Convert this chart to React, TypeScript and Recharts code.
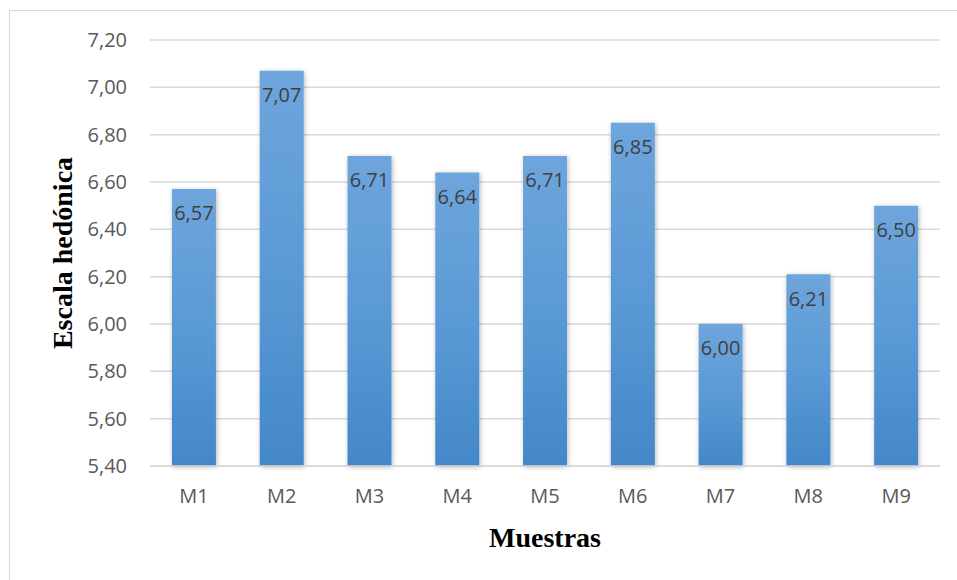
import { Bar, BarChart, CartesianGrid, LabelList, XAxis, YAxis } from "recharts";

const muestras = ["M1", "M2", "M3", "M4", "M5", "M6", "M7", "M8", "M9"];
const escala = [6.57, 7.07, 6.71, 6.64, 6.71, 6.85, 6.0, 6.21, 6.5];
const yTicks = [5.4, 5.6, 5.8, 6.0, 6.2, 6.4, 6.6, 6.8, 7.0, 7.2];

const data = muestras.map((m, i) => ({ name: m, value: escala[i] }));

const fmt = (v: number) => Number(v).toFixed(2).replace(".", ",");

const tickStyle = {
  fill: "#595959",
  fontSize: 20,
  fontFamily: "'Open Sans', sans-serif",
};

const titleStyle = {
  fill: "#000",
  fontSize: 28,
  fontWeight: "bold" as const,
  fontFamily: "'Liberation Serif', 'Times New Roman', serif",
};

export default function App() {
  return (
    <div
      style={{
        position: "absolute",
        left: 0,
        top: 0,
        width: 957,
        height: 580,
        overflow: "hidden",
        background: "#fff",
      }}
    >
      <div
        style={{
          position: "absolute",
          left: 9,
          top: 10,
          width: 1000,
          height: 700,
          border: "1.5px solid #d9d9d9",
        }}
      />
      <BarChart
        width={957}
        height={580}
        data={data}
        margin={{ top: 40, right: 17, bottom: 0, left: 0 }}
        barCategoryGap="25%"
        style={{ position: "absolute", left: 0, top: 0 }}
      >
        <defs>
          <linearGradient id="barFill" x1="0" y1="0" x2="0" y2="1">
            <stop offset="0%" stopColor="#6ea5dc" />
            <stop offset="50%" stopColor="#5a9ad6" />
            <stop offset="100%" stopColor="#4487c8" />
          </linearGradient>
          <filter id="barShadow" x="-30%" y="-10%" width="160%" height="120%">
            <feDropShadow dx="1" dy="1" stdDeviation="2.5" floodColor="#000" floodOpacity="0.28" />
          </filter>
        </defs>
        <CartesianGrid vertical={false} stroke="#d9d9d9" strokeWidth={1.5} />
        <XAxis
          dataKey="name"
          height={114}
          tickLine={false}
          tickSize={0}
          tickMargin={23}
          axisLine={{ stroke: "#d9d9d9", strokeWidth: 1.5 }}
          tick={tickStyle}
          label={{
            value: "Muestras",
            position: "insideBottom",
            offset: 33,
            style: titleStyle,
          }}
        />
        <YAxis
          width={150}
          domain={[5.4, 7.2]}
          ticks={yTicks}
          interval={0}
          axisLine={false}
          tickLine={false}
          tickSize={0}
          tickMargin={23}
          tickFormatter={fmt}
          tick={tickStyle}
          label={{
            content: (props: any) => {
              const vb = props.viewBox || {};
              const cx = (vb.x || 0) + 62;
              const cy = (vb.y || 0) + (vb.height || 0) / 2;
              return (
                <text
                  x={cx}
                  y={cy}
                  transform={`rotate(-90 ${cx} ${cy})`}
                  textAnchor="middle"
                  dominantBaseline="central"
                  style={titleStyle}
                >
                  Escala hedónica
                </text>
              );
            },
          }}
        />
        <Bar
          dataKey="value"
          fill="url(#barFill)"
          filter="url(#barShadow)"
          isAnimationActive={false}
        >
          <LabelList
            dataKey="value"
            position="insideTop"
            offset={17}
            formatter={(v: any) => fmt(v)}
            style={{ fill: "#404040", fontSize: 20, fontFamily: "'Open Sans', sans-serif" }}
          />
        </Bar>
      </BarChart>
    </div>
  );
}
